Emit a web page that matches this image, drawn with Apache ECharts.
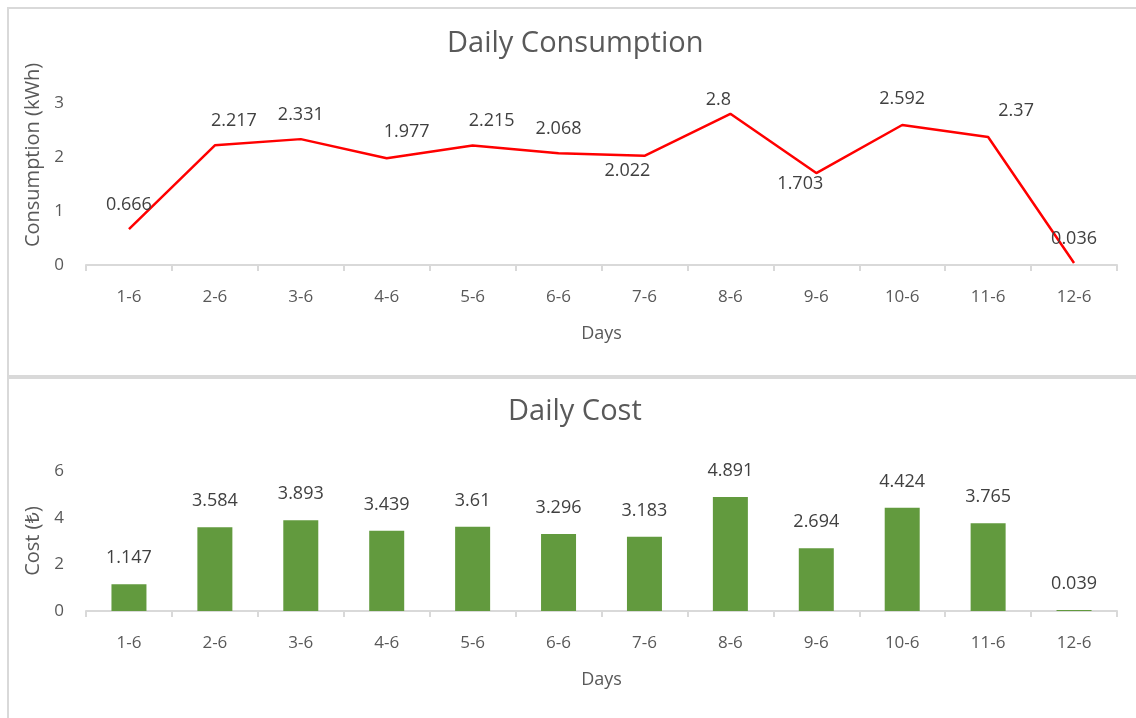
<!DOCTYPE html>
<html>
<head>
<meta charset="utf-8">
<script src="https://cdn.jsdelivr.net/npm/echarts@6/dist/echarts.min.js"></script>
<style>
  html, body { margin: 0; padding: 0; background: #fff; }
  #main { width: 1136px; height: 718px; }
</style>
</head>
<body>
<div id="main"></div>
<script>
var days = ['1-6', '2-6', '3-6', '4-6', '5-6', '6-6', '7-6', '8-6', '9-6', '10-6', '11-6', '12-6']
var consumption = [0.666, 2.217, 2.331, 1.977, 2.215, 2.068, 2.022, 2.8, 1.703, 2.592, 2.37, 0.036]
var cost = [1.147, 3.584, 3.893, 3.439, 3.61, 3.296, 3.183, 4.891, 2.694, 4.424, 3.765, 0.039]

// label placement tweaks for the line, like the excel original
var labelNudge = {
  '2-6': { offset: [19, 0] },
  '4-6': { offset: [20, -2] },
  '5-6': { offset: [19, 0] },
  '7-6': { position: 'bottom', distance: 6, offset: [-17, 0] },
  '8-6': { offset: [-12, 11] },
  '9-6': { position: 'bottom', distance: 1, offset: [-16, 0] },
  '10-6': { offset: [0, -2] },
  '11-6': { offset: [28, -2] }
}

var font = "'Open Sans', 'Noto Sans', sans-serif"
var grey = '#595959'

var chart = echarts.init(document.getElementById('main'))

function xAxisCfg(idx) {
  return {
    type: 'category',
    gridIndex: idx,
    data: days,
    name: 'Days',
    nameLocation: 'middle',
    nameGap: 60,
    nameTextStyle: { color: grey, fontSize: 18, fontFamily: font },
    axisLine: { lineStyle: { color: '#d9d9d9', width: 2 } },
    axisTick: { show: true, length: 6, lineStyle: { color: '#d9d9d9', width: 2 } },
    axisLabel: { color: grey, fontSize: 17, fontFamily: font, margin: 24 }
  }
}

function yAxisCfg(idx, name, max, interval, shift) {
  return {
    type: 'value',
    gridIndex: idx,
    min: 0,
    max: max,
    interval: interval,
    name: name,
    nameLocation: 'middle',
    nameGap: 36,
    nameTextStyle: { color: grey, fontSize: 20, fontFamily: font, padding: [0, 0, 0, shift] },
    axisLine: { show: false },
    axisTick: { show: false },
    splitLine: { show: false },
    axisLabel: { color: grey, fontSize: 17, fontFamily: font, margin: 22 }
  }
}

var option = {
  backgroundColor: '#fff',
  animation: false,
  graphic: [
    { type: 'rect', shape: { x: 8, y: 8, width: 1140, height: 368 }, style: { fill: 'none', stroke: '#d9d9d9', lineWidth: 2 } },
    { type: 'rect', shape: { x: 8, y: 378, width: 1140, height: 360 }, style: { fill: 'none', stroke: '#d9d9d9', lineWidth: 2 } }
  ],
  title: [
    { text: 'Daily Consumption', left: 442, top: 24, textStyle: { color: grey, fontSize: 29, fontWeight: 'normal', fontFamily: font } },
    { text: 'Daily Cost', left: 503, top: 392, textStyle: { color: grey, fontSize: 29, fontWeight: 'normal', fontFamily: font } }
  ],
  grid: [
    { left: 86, right: 19, top: 103, height: 162 },
    { left: 86, right: 19, top: 471, height: 140 }
  ],
  xAxis: [xAxisCfg(0), xAxisCfg(1)],
  yAxis: [yAxisCfg(0, 'Consumption (kWh)', 3, 1, 58), yAxisCfg(1, 'Cost (₺)', 6, 2, 0)],
  series: [
    {
      type: 'line',
      xAxisIndex: 0,
      yAxisIndex: 0,
      data: consumption.map(function (v, i) {
        return { value: v, label: labelNudge[days[i]] || {} }
      }),
      symbol: 'circle',
      symbolSize: 1,
      showSymbol: true,
      itemStyle: { color: 'rgba(255,0,0,0)' },
      lineStyle: { color: '#ff0000', width: 2.5 },
      label: { show: true, position: 'top', distance: 15, color: '#404040', fontSize: 18, fontFamily: font }
    },
    {
      type: 'bar',
      xAxisIndex: 1,
      yAxisIndex: 1,
      data: cost,
      barWidth: 35,
      itemStyle: { color: '#629a3e' },
      label: { show: true, position: 'top', distance: 17, color: '#404040', fontSize: 18, fontFamily: font }
    }
  ]
}

chart.setOption(option)
window.addEventListener('resize', function () {
  chart.resize()
})
</script>
</body>
</html>
